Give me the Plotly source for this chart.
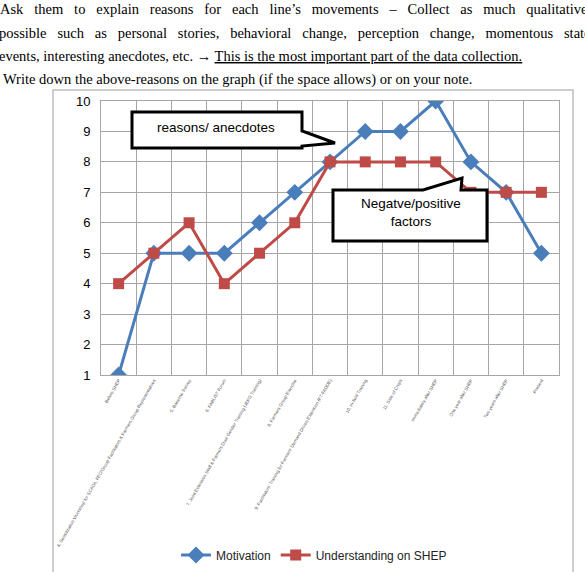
import plotly.graph_objects as go

categories = [
    "Before SHEP",
    "4. Sensitization Workshop for SCAOs, FEO/Group Facilitators & Farmers Group Representatives",
    "5. Baseline Survey",
    "6. FABLIST Forum",
    "7. Joint Extension Staff & Farmers Dual Gender Training (JEFG Training)",
    "8. Farmers Group Exercise",
    "9. Facilitators' Training for Farmers' Demand Driven Extension (FT-FADDE)",
    "10. In-field Training",
    "11. Sale of Crops",
    "Immediately after SHEP",
    "One year after SHEP",
    "Two years after SHEP",
    "Present",
]
motivation = [1, 5, 5, 5, 6, 7, 8, 9, 9, 10, 8, 7, 5]
understanding = [4, 5, 6, 4, 5, 6, 8, 8, 8, 8, 7, 7, 7]

W, H = 585, 572
L, R, T, B = 101, 26, 101, 197
PW, PH = W - L - R, H - T - B


def px(x):
    return (x - L) / PW


def py(y):
    return (H - B - y) / PH


fig = go.Figure()
fig.add_trace(go.Scatter(
    x=categories, y=motivation, mode="lines+markers", name="Motivation",
    line=dict(color="#4A7EBB", width=3),
    marker=dict(symbol="diamond", size=13, color="#4A7EBB"),
))
fig.add_trace(go.Scatter(
    x=categories, y=understanding, mode="lines+markers", name="Understanding on SHEP",
    line=dict(color="#BE4B48", width=3),
    marker=dict(symbol="square", size=11, color="#BE4B48"),
))

shapes = []
# outer chart frame
shapes.append(dict(type="rect", xref="paper", yref="paper",
                   x0=px(53), x1=px(573), y0=py(620), y1=py(90),
                   line=dict(color="#BFBFBF", width=1.5), layer="below"))


def poly(pts):
    return "M " + " L ".join(f"{px(a):.5f},{py(b):.5f}" for a, b in pts) + " Z"


shapes.append(dict(type="path", xref="paper", yref="paper",
                   path=poly([(132, 112), (302, 112), (302, 131), (335, 143),
                              (302, 146), (302, 148), (132, 148)]),
                   fillcolor="white", line=dict(color="black", width=3), layer="above"))
shapes.append(dict(type="path", xref="paper", yref="paper",
                   path=poly([(333, 190), (423, 190), (462, 178), (461, 190),
                              (487, 190), (487, 241), (333, 241)]),
                   fillcolor="white", line=dict(color="black", width=3), layer="above"))

serif = dict(family="Liberation Serif, Times New Roman, serif", size=14.5, color="black")
sans = dict(family="Liberation Sans, Arial, sans-serif", size=13.5, color="black")

gap = " \u00a0\u00a0"
line1 = gap.join("Ask them to explain reasons for each line\u2019s movements \u2013 Collect as much qualitative information".split(" "))
line2 = gap.join("possible such as personal stories, behavioral change, perception change, momentous statements,".split(" "))

annotations = []
doc_lines = [
    (-2, 9, line1),
    (-3, 33, line2),
    (-3, 56, "events, interesting anecdotes, etc. \u2192 <u>This is the most important part of the data collection.</u>"),
    (1, 79, "Write down the above-reasons on the graph (if the space allows) or on your note."),
]
for x0, y0, t in doc_lines:
    annotations.append(dict(xref="paper", yref="paper", x=px(x0), y=py(y0), text=t,
                            showarrow=False, xanchor="left", yanchor="middle", font=serif))

annotations.append(dict(xref="paper", yref="paper", x=px(216), y=py(127),
                        text="reasons/ anecdotes", showarrow=False,
                        xanchor="center", yanchor="middle", font=sans))
annotations.append(dict(xref="paper", yref="paper", x=px(411), y=py(212),
                        text="Negatve/positive<br>factors", showarrow=False,
                        xanchor="center", yanchor="middle", font=sans))

fig.update_layout(
    width=W, height=H,
    margin=dict(l=L, r=R, t=T, b=B, autoexpand=False),
    paper_bgcolor="white", plot_bgcolor="white",
    shapes=shapes, annotations=annotations,
    showlegend=True,
    legend=dict(orientation="h", x=px(176), y=py(555), xanchor="left", yanchor="middle",
                font=dict(family="Liberation Sans, Arial, sans-serif", size=12, color="#222"),
                itemwidth=30, tracegroupgap=0, bgcolor="rgba(0,0,0,0)"),
    xaxis=dict(type="category", tickson="boundaries", showgrid=True, gridcolor="#A6A6A6",
               gridwidth=1, showline=True, linecolor="#A6A6A6", mirror=True,
               ticks="", tickangle=-60, automargin=False,
               tickfont=dict(family="Liberation Sans, Arial, sans-serif", size=4.5, color="#555"),
               range=[-0.5, 12.5]),
    yaxis=dict(range=[1, 10], dtick=1, tick0=1, showgrid=True, gridcolor="#A6A6A6",
               showline=True, linecolor="#A6A6A6", mirror=True, ticks="", zeroline=False,
               automargin=False, ticklabelstandoff=7,
               tickfont=dict(family="Liberation Sans, Arial, sans-serif", size=13, color="black")),
)

fig.write_html("out.html")
